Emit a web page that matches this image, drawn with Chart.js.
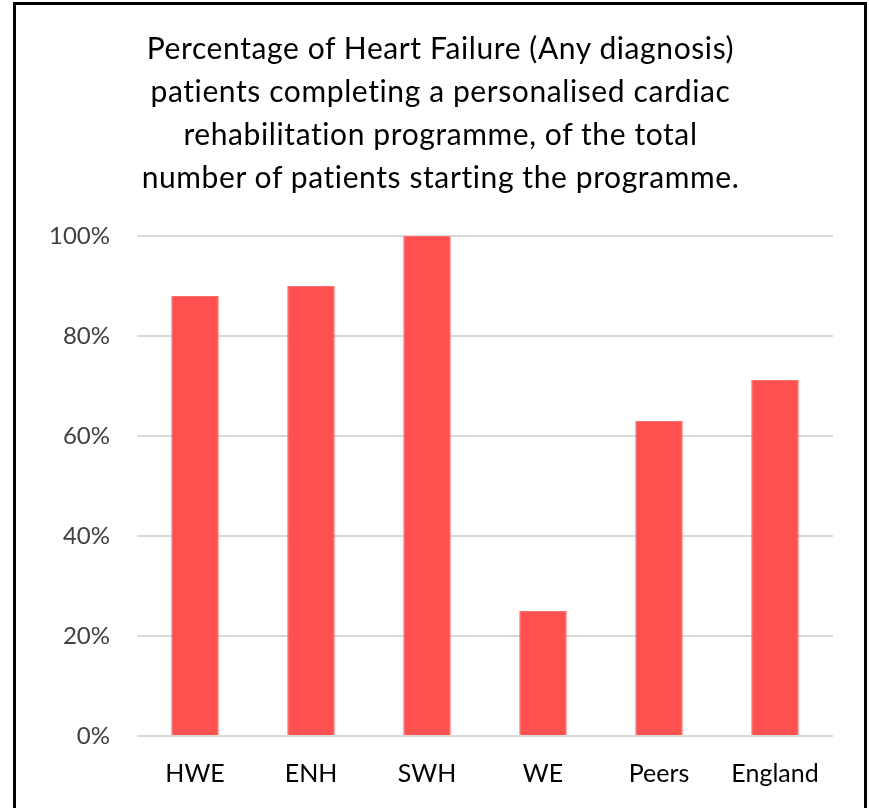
<!DOCTYPE html>
<html>
<head>
<meta charset="utf-8">
<script src="https://cdn.jsdelivr.net/npm/chart.js@4"></script>
<style>
  html, body { margin: 0; padding: 0; background: #fff; }
  #wrap { position: relative; width: 869px; height: 808px; overflow: hidden; }
  canvas { position: absolute; left: 0; top: 0; }
  #frame { position: absolute; left: 13px; top: 2px; width: 848px; height: 830px; border: 3px solid #000; pointer-events: none; }
  #title { position: absolute; left: 120px; width: 641px; top: 26px; text-align: center;
           font-family: Lato, 'Open Sans', sans-serif; font-size: 30px; line-height: 43px; color: #000;
           letter-spacing: 0.6px; white-space: nowrap; }
</style>
</head>
<body>
<div id="wrap">
  <canvas id="c" width="869" height="808"></canvas>
  <div id="title"></div>
  <div id="frame"></div>
</div>
<script>
const categories = ["HWE", "ENH", "SWH", "WE", "Peers", "England"];
const values = [88, 90, 100, 25, 63, 71.2];
const titleLines = [
  "Percentage of Heart Failure (Any diagnosis)",
  "patients completing a personalised cardiac",
  "rehabilitation programme, of the total",
  "number of patients starting the programme."
];
const yTicks = [0, 20, 40, 60, 80, 100];

const FONT = "Lato, 'Open Sans', sans-serif";

const titleEl = document.getElementById('title');
titleLines.forEach(t => { const d = document.createElement('div'); d.textContent = t; titleEl.appendChild(d); });

new Chart(document.getElementById('c'), {
  type: 'bar',
  data: {
    labels: categories,
    datasets: [{
      data: values,
      backgroundColor: '#FF5050',
      borderColor: '#FF7070',
      borderWidth: 1,
      barPercentage: 0.41,
      categoryPercentage: 1.0
    }]
  },
  options: {
    responsive: false,
    animation: false,
    layout: { padding: { left: 0, right: 36, top: 236, bottom: 0 } },
    plugins: {
      legend: { display: false },
      tooltip: { enabled: false },
      title: { display: false }
    },
    scales: {
      x: {
        grid: { display: false },
        border: { display: false },
        ticks: { color: '#000', font: { family: FONT, size: 25 }, padding: 15, maxRotation: 0 },
        afterFit: (s) => { s.height = 72; }
      },
      y: {
        min: 0, max: 100,
        afterBuildTicks: (s) => { s.ticks = yTicks.map(v => ({ value: v })); },
        grid: { color: '#D9D9D9', lineWidth: 2, drawTicks: false },
        border: { display: false },
        ticks: { color: '#404040', font: { family: FONT, size: 24 }, padding: 27, callback: (v) => v + '%' },
        afterFit: (s) => { s.width = 137; }
      }
    }
  }
});
</script>
</body>
</html>
